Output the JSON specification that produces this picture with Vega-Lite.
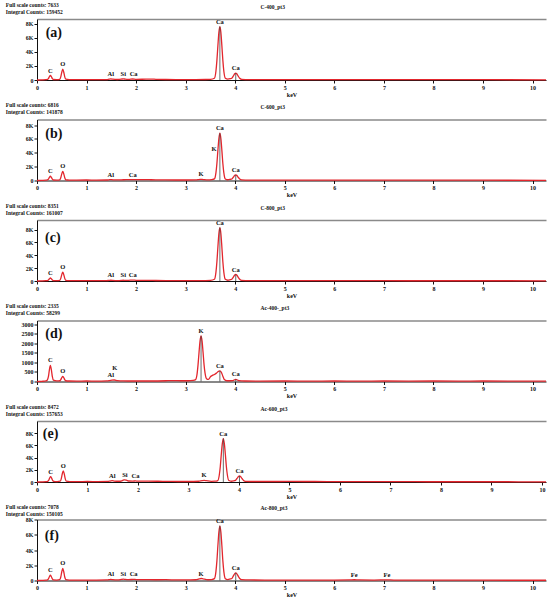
{
  "$schema": "https://vega.github.io/schema/vega-lite/v6.json",
  "background": "white",
  "padding": {"left": 5, "top": 2, "right": 4, "bottom": 0},
  "spacing": 5.5,
  "config": {
    "view": {"stroke": null},
    "font": "Liberation Serif",
    "axis": {
      "grid": false,
      "labelFont": "Liberation Serif", "labelFontWeight": "bold", "labelFontSize": 6, "labelColor": "#111",
      "titleFont": "Liberation Serif", "titleFontWeight": "bold", "titleFontSize": 6, "titleColor": "#111",
      "domainColor": "#111", "tickColor": "#111", "tickSize": 3, "labelPadding": 1, "titlePadding": 1
    },
    "text": {"font": "Liberation Serif", "fontWeight": "bold", "color": "#111"}
  },
  "datasets": {
    "a": [
      {"x":0,"y":0},{"x":0.1,"y":20},{"x":0.18,"y":50},
      {"x":0.21,"y":80},{"x":0.23,"y":200},{"x":0.25,"y":470},{"x":0.27,"y":640},{"x":0.29,"y":470},{"x":0.31,"y":200},{"x":0.33,"y":70},
      {"x":0.4,"y":50},
      {"x":0.46,"y":100},{"x":0.48,"y":450},{"x":0.5,"y":1110},{"x":0.52,"y":1540},{"x":0.54,"y":1110},{"x":0.56,"y":450},{"x":0.58,"y":120},
      {"x":0.65,"y":60},{"x":0.8,"y":50},{"x":1.0,"y":60},{"x":1.2,"y":50},{"x":1.4,"y":60},
      {"x":1.45,"y":110},{"x":1.49,"y":170},{"x":1.53,"y":110},{"x":1.62,"y":70},
      {"x":1.7,"y":120},{"x":1.74,"y":170},{"x":1.78,"y":120},{"x":1.85,"y":90},{"x":1.93,"y":140},{"x":2.0,"y":90},
      {"x":2.2,"y":120},{"x":2.3,"y":130},{"x":2.4,"y":100},{"x":2.6,"y":70},{"x":2.8,"y":60},{"x":3.0,"y":60},{"x":3.2,"y":60},{"x":3.4,"y":70},{"x":3.5,"y":90},
      {"x":3.58,"y":250},{"x":3.61,"y":1250},{"x":3.63,"y":2800},{"x":3.65,"y":4900},{"x":3.67,"y":6800},{"x":3.69,"y":7620},{"x":3.71,"y":6800},{"x":3.73,"y":4900},{"x":3.75,"y":2800},{"x":3.77,"y":1250},{"x":3.8,"y":250},
      {"x":3.85,"y":120},{"x":3.9,"y":180},
      {"x":3.93,"y":250},{"x":3.96,"y":550},{"x":3.99,"y":880},{"x":4.01,"y":960},{"x":4.03,"y":880},{"x":4.06,"y":550},{"x":4.09,"y":250},{"x":4.13,"y":100},
      {"x":4.3,"y":60},{"x":4.6,"y":50},{"x":5.0,"y":50},{"x":5.5,"y":60},{"x":6.0,"y":60},{"x":6.5,"y":60},{"x":7.0,"y":60},{"x":7.5,"y":50},{"x":8.0,"y":40},{"x":9.0,"y":40},{"x":10.27,"y":30}
    ],
    "b": [
      {"x":0,"y":0},{"x":0.1,"y":20},{"x":0.18,"y":50},
      {"x":0.21,"y":80},{"x":0.23,"y":190},{"x":0.25,"y":450},{"x":0.27,"y":620},{"x":0.29,"y":450},{"x":0.31,"y":190},{"x":0.33,"y":70},
      {"x":0.4,"y":50},
      {"x":0.46,"y":100},{"x":0.48,"y":400},{"x":0.5,"y":960},{"x":0.52,"y":1330},{"x":0.54,"y":960},{"x":0.56,"y":400},{"x":0.58,"y":110},
      {"x":0.65,"y":60},{"x":0.8,"y":60},{"x":1.0,"y":70},{"x":1.2,"y":60},{"x":1.4,"y":70},
      {"x":1.45,"y":100},{"x":1.49,"y":140},{"x":1.53,"y":100},{"x":1.62,"y":80},{"x":1.75,"y":110},{"x":1.85,"y":120},{"x":1.93,"y":140},{"x":2.0,"y":130},
      {"x":2.2,"y":120},{"x":2.3,"y":110},{"x":2.4,"y":100},{"x":2.6,"y":80},{"x":2.8,"y":70},{"x":3.0,"y":70},{"x":3.2,"y":90},
      {"x":3.27,"y":140},{"x":3.31,"y":170},{"x":3.35,"y":140},{"x":3.45,"y":80},{"x":3.52,"y":120},
      {"x":3.58,"y":230},{"x":3.61,"y":1100},{"x":3.63,"y":2450},{"x":3.65,"y":4350},{"x":3.67,"y":6050},{"x":3.69,"y":6820},{"x":3.71,"y":6050},{"x":3.73,"y":4350},{"x":3.75,"y":2450},{"x":3.77,"y":1100},{"x":3.8,"y":220},
      {"x":3.85,"y":110},{"x":3.9,"y":170},
      {"x":3.93,"y":220},{"x":3.96,"y":470},{"x":3.99,"y":740},{"x":4.01,"y":810},{"x":4.03,"y":740},{"x":4.06,"y":470},{"x":4.09,"y":220},{"x":4.13,"y":90},
      {"x":4.3,"y":60},{"x":4.6,"y":50},{"x":5.0,"y":50},{"x":5.5,"y":50},{"x":6.0,"y":50},{"x":6.5,"y":50},{"x":7.0,"y":50},{"x":7.5,"y":40},{"x":8.0,"y":40},{"x":9.0,"y":40},{"x":10.27,"y":30}
    ],
    "c": [
      {"x":0,"y":0},{"x":0.1,"y":20},{"x":0.18,"y":50},
      {"x":0.21,"y":70},{"x":0.23,"y":150},{"x":0.25,"y":340},{"x":0.27,"y":470},{"x":0.29,"y":340},{"x":0.31,"y":150},{"x":0.33,"y":60},
      {"x":0.4,"y":50},
      {"x":0.46,"y":100},{"x":0.48,"y":410},{"x":0.5,"y":1000},{"x":0.52,"y":1380},{"x":0.54,"y":1000},{"x":0.56,"y":410},{"x":0.58,"y":110},
      {"x":0.65,"y":60},{"x":0.8,"y":50},{"x":1.0,"y":60},{"x":1.2,"y":50},{"x":1.4,"y":60},
      {"x":1.45,"y":90},{"x":1.49,"y":120},{"x":1.53,"y":90},{"x":1.62,"y":60},
      {"x":1.7,"y":90},{"x":1.74,"y":120},{"x":1.78,"y":90},{"x":1.85,"y":100},{"x":1.93,"y":150},{"x":2.0,"y":110},
      {"x":2.2,"y":90},{"x":2.4,"y":80},{"x":2.6,"y":70},{"x":2.8,"y":60},{"x":3.0,"y":60},{"x":3.2,"y":60},{"x":3.4,"y":70},{"x":3.5,"y":90},
      {"x":3.58,"y":270},{"x":3.61,"y":1350},{"x":3.63,"y":3000},{"x":3.65,"y":5300},{"x":3.67,"y":7400},{"x":3.69,"y":8320},{"x":3.71,"y":7400},{"x":3.73,"y":5300},{"x":3.75,"y":3000},{"x":3.77,"y":1350},{"x":3.8,"y":270},
      {"x":3.85,"y":120},{"x":3.9,"y":200},
      {"x":3.93,"y":270},{"x":3.96,"y":580},{"x":3.99,"y":920},{"x":4.01,"y":1010},{"x":4.03,"y":920},{"x":4.06,"y":580},{"x":4.09,"y":270},{"x":4.13,"y":100},
      {"x":4.3,"y":60},{"x":4.6,"y":50},{"x":5.0,"y":50},{"x":5.5,"y":60},{"x":6.0,"y":50},{"x":6.5,"y":50},{"x":7.0,"y":50},{"x":7.5,"y":40},{"x":8.0,"y":40},{"x":9.0,"y":40},{"x":10.27,"y":30}
    ],
    "d": [
      {"x":0,"y":0},{"x":0.1,"y":10},{"x":0.18,"y":30},
      {"x":0.21,"y":90},{"x":0.23,"y":250},{"x":0.25,"y":610},{"x":0.27,"y":850},{"x":0.29,"y":610},{"x":0.31,"y":250},{"x":0.33,"y":70},
      {"x":0.4,"y":30},
      {"x":0.46,"y":40},{"x":0.48,"y":100},{"x":0.5,"y":200},{"x":0.52,"y":270},{"x":0.54,"y":200},{"x":0.56,"y":100},{"x":0.58,"y":40},
      {"x":0.65,"y":25},{"x":0.8,"y":20},{"x":1.0,"y":25},{"x":1.2,"y":20},{"x":1.4,"y":30},
      {"x":1.49,"y":60},{"x":1.56,"y":80},{"x":1.62,"y":50},{"x":1.75,"y":30},{"x":2.0,"y":25},{"x":2.3,"y":25},
      {"x":2.6,"y":40},{"x":2.7,"y":50},{"x":2.8,"y":45},{"x":2.9,"y":40},{"x":3.05,"y":40},{"x":3.15,"y":60},
      {"x":3.2,"y":100},{"x":3.23,"y":400},{"x":3.25,"y":900},{"x":3.27,"y":1550},{"x":3.29,"y":2130},{"x":3.31,"y":2390},{"x":3.33,"y":2130},{"x":3.35,"y":1550},{"x":3.37,"y":900},{"x":3.39,"y":450},{"x":3.42,"y":150},
      {"x":3.46,"y":110},{"x":3.5,"y":250},{"x":3.54,"y":320},{"x":3.58,"y":370},{"x":3.62,"y":440},{"x":3.66,"y":530},{"x":3.69,"y":560},{"x":3.72,"y":480},{"x":3.75,"y":280},{"x":3.78,"y":100},{"x":3.83,"y":40},
      {"x":3.95,"y":50},{"x":4.01,"y":110},{"x":4.07,"y":50},
      {"x":4.2,"y":25},{"x":4.5,"y":20},{"x":5.0,"y":25},{"x":5.5,"y":20},{"x":6.0,"y":25},{"x":6.5,"y":20},{"x":7.0,"y":25},{"x":7.5,"y":20},{"x":8.0,"y":25},{"x":8.5,"y":20},{"x":9.0,"y":25},{"x":9.5,"y":20},{"x":10.27,"y":15}
    ],
    "e": [
      {"x":0,"y":0},{"x":0.1,"y":20},{"x":0.18,"y":60},
      {"x":0.21,"y":110},{"x":0.23,"y":270},{"x":0.25,"y":640},{"x":0.27,"y":880},{"x":0.29,"y":640},{"x":0.31,"y":270},{"x":0.33,"y":90},
      {"x":0.4,"y":60},
      {"x":0.46,"y":130},{"x":0.48,"y":520},{"x":0.5,"y":1310},{"x":0.52,"y":1810},{"x":0.54,"y":1310},{"x":0.56,"y":520},{"x":0.58,"y":140},
      {"x":0.65,"y":70},{"x":0.8,"y":60},{"x":1.0,"y":80},{"x":1.2,"y":70},{"x":1.4,"y":90},
      {"x":1.45,"y":160},{"x":1.49,"y":210},{"x":1.53,"y":160},{"x":1.62,"y":120},
      {"x":1.68,"y":200},{"x":1.72,"y":340},{"x":1.74,"y":360},{"x":1.77,"y":300},{"x":1.82,"y":160},{"x":1.9,"y":150},{"x":1.95,"y":180},{"x":2.0,"y":140},
      {"x":2.2,"y":130},{"x":2.4,"y":120},{"x":2.6,"y":100},{"x":2.8,"y":80},{"x":3.0,"y":80},{"x":3.2,"y":120},
      {"x":3.27,"y":220},{"x":3.31,"y":260},{"x":3.35,"y":220},{"x":3.45,"y":110},{"x":3.52,"y":130},
      {"x":3.58,"y":240},{"x":3.61,"y":1150},{"x":3.63,"y":2550},{"x":3.65,"y":4550},{"x":3.67,"y":6300},{"x":3.69,"y":7120},{"x":3.71,"y":6300},{"x":3.73,"y":4550},{"x":3.75,"y":2550},{"x":3.77,"y":1150},{"x":3.8,"y":240},
      {"x":3.85,"y":120},{"x":3.9,"y":200},
      {"x":3.93,"y":260},{"x":3.96,"y":570},{"x":3.99,"y":900},{"x":4.01,"y":980},{"x":4.03,"y":900},{"x":4.06,"y":570},{"x":4.09,"y":260},{"x":4.13,"y":110},
      {"x":4.3,"y":80},{"x":4.6,"y":80},{"x":5.0,"y":90},{"x":5.5,"y":80},{"x":6.0,"y":70},{"x":6.5,"y":60},{"x":7.0,"y":50},{"x":7.5,"y":50},{"x":8.0,"y":40},{"x":9.0,"y":40},{"x":10.08,"y":30}
    ],
    "f": [
      {"x":0,"y":0},{"x":0.1,"y":20},{"x":0.18,"y":50},
      {"x":0.21,"y":90},{"x":0.23,"y":210},{"x":0.25,"y":500},{"x":0.27,"y":690},{"x":0.29,"y":500},{"x":0.31,"y":210},{"x":0.33,"y":70},
      {"x":0.4,"y":50},
      {"x":0.46,"y":110},{"x":0.48,"y":460},{"x":0.5,"y":1150},{"x":0.52,"y":1600},{"x":0.54,"y":1150},{"x":0.56,"y":460},{"x":0.58,"y":120},
      {"x":0.65,"y":60},{"x":0.8,"y":50},{"x":1.0,"y":60},{"x":1.2,"y":60},{"x":1.4,"y":70},
      {"x":1.45,"y":110},{"x":1.49,"y":140},{"x":1.53,"y":110},{"x":1.62,"y":80},
      {"x":1.7,"y":140},{"x":1.74,"y":180},{"x":1.78,"y":140},{"x":1.85,"y":110},{"x":1.95,"y":150},{"x":2.0,"y":120},
      {"x":2.2,"y":110},{"x":2.4,"y":100},{"x":2.6,"y":110},{"x":2.8,"y":80},{"x":3.0,"y":70},{"x":3.2,"y":100},
      {"x":3.27,"y":210},{"x":3.31,"y":260},{"x":3.35,"y":210},{"x":3.45,"y":100},{"x":3.52,"y":120},
      {"x":3.58,"y":240},{"x":3.61,"y":1160},{"x":3.63,"y":2570},{"x":3.65,"y":4580},{"x":3.67,"y":6360},{"x":3.69,"y":7170},{"x":3.71,"y":6360},{"x":3.73,"y":4580},{"x":3.75,"y":2570},{"x":3.77,"y":1160},{"x":3.8,"y":240},
      {"x":3.85,"y":120},{"x":3.9,"y":200},
      {"x":3.93,"y":260},{"x":3.96,"y":570},{"x":3.99,"y":910},{"x":4.01,"y":1000},{"x":4.03,"y":910},{"x":4.06,"y":570},{"x":4.09,"y":260},{"x":4.13,"y":110},
      {"x":4.3,"y":70},{"x":4.6,"y":60},{"x":5.0,"y":60},{"x":5.5,"y":60},{"x":6.0,"y":60},{"x":6.3,"y":80},{"x":6.4,"y":100},{"x":6.5,"y":70},{"x":6.8,"y":60},{"x":7.06,"y":90},{"x":7.2,"y":60},{"x":7.5,"y":60},{"x":8.0,"y":40},{"x":9.0,"y":40},{"x":10.27,"y":30}
    ],
    "mk": [
      {"p":"a","x":3.69,"y":7620},{"p":"a","x":4.01,"y":960},
      {"p":"b","x":3.69,"y":6820},{"p":"b","x":4.01,"y":810},
      {"p":"c","x":3.69,"y":8320},{"p":"c","x":4.01,"y":1010},
      {"p":"d","x":3.31,"y":2390},{"p":"d","x":3.69,"y":560},{"p":"d","x":4.01,"y":110},
      {"p":"e","x":3.69,"y":7120},{"p":"e","x":4.01,"y":980},
      {"p":"f","x":3.69,"y":7170},{"p":"f","x":4.01,"y":1000}
    ],
    "lab": [
      {"p":"a","x":0.27,"y":640,"t":"C"},{"p":"a","x":0.52,"y":1540,"t":"O"},{"p":"a","x":1.49,"y":170,"t":"Al"},{"p":"a","x":1.74,"y":170,"t":"Si"},{"p":"a","x":1.95,"y":170,"t":"Ca"},{"p":"a","x":3.69,"y":7620,"t":"Ca"},{"p":"a","x":4.01,"y":960,"t":"Ca"},
      {"p":"b","x":0.27,"y":620,"t":"C"},{"p":"b","x":0.52,"y":1330,"t":"O"},{"p":"b","x":1.49,"y":140,"t":"Al"},{"p":"b","x":1.93,"y":140,"t":"Ca"},{"p":"b","x":3.31,"y":170,"t":"K"},{"p":"b","x":3.57,"y":3850,"t":"K"},{"p":"b","x":3.69,"y":6820,"t":"Ca"},{"p":"b","x":4.01,"y":810,"t":"Ca"},
      {"p":"c","x":0.27,"y":470,"t":"C"},{"p":"c","x":0.52,"y":1380,"t":"O"},{"p":"c","x":1.49,"y":120,"t":"Al"},{"p":"c","x":1.74,"y":120,"t":"Si"},{"p":"c","x":1.93,"y":150,"t":"Ca"},{"p":"c","x":3.69,"y":8320,"t":"Ca"},{"p":"c","x":4.01,"y":1010,"t":"Ca"},
      {"p":"d","x":0.27,"y":850,"t":"C"},{"p":"d","x":0.52,"y":270,"t":"O"},{"p":"d","x":1.49,"y":60,"t":"Al"},{"p":"d","x":1.57,"y":420,"t":"K"},{"p":"d","x":3.31,"y":2390,"t":"K"},{"p":"d","x":3.69,"y":560,"t":"Ca"},{"p":"d","x":4.01,"y":110,"t":"Ca"},
      {"p":"e","x":0.27,"y":880,"t":"C"},{"p":"e","x":0.52,"y":1810,"t":"O"},{"p":"e","x":1.49,"y":210,"t":"Al"},{"p":"e","x":1.74,"y":360,"t":"Si"},{"p":"e","x":1.95,"y":180,"t":"Ca"},{"p":"e","x":3.31,"y":260,"t":"K"},{"p":"e","x":3.69,"y":7120,"t":"Ca"},{"p":"e","x":4.01,"y":980,"t":"Ca"},
      {"p":"f","x":0.27,"y":690,"t":"C"},{"p":"f","x":0.52,"y":1600,"t":"O"},{"p":"f","x":1.49,"y":140,"t":"Al"},{"p":"f","x":1.74,"y":180,"t":"Si"},{"p":"f","x":1.95,"y":150,"t":"Ca"},{"p":"f","x":3.31,"y":260,"t":"K"},{"p":"f","x":3.69,"y":7170,"t":"Ca"},{"p":"f","x":4.01,"y":1000,"t":"Ca"},{"p":"f","x":6.4,"y":100,"t":"Fe"},{"p":"f","x":7.06,"y":90,"t":"Fe"}
    ],
    "let": [
      {"p":"a","x":0.34,"y":6700,"t":"(a)"},
      {"p":"b","x":0.34,"y":6770,"t":"(b)"},
      {"p":"c","x":0.32,"y":6770,"t":"(c)"},
      {"p":"d","x":0.34,"y":2490,"t":"(d)"},
      {"p":"e","x":0.27,"y":7940,"t":"(e)"},
      {"p":"f","x":0.3,"y":5860,"t":"(f)"}
    ]
  },
  "vconcat": [
    {
      "width": 509, "height": 61,
      "encoding": {
        "x": {"field": "x", "type": "quantitative", "scale": {"domain": [0, 10.27], "nice": false}, "axis": null},
        "y": {"field": "y", "type": "quantitative", "scale": {"domain": [0, 8700], "nice": false}, "axis": null}
      },
      "layer": [
        {"data": {"name": "a"}, "mark": {"type": "line", "color": "#e3262d", "strokeWidth": 1.3, "interpolate": "monotone"},
         "encoding": {
           "x": {"field": "x", "type": "quantitative", "scale": {"domain": [0, 10.27], "nice": false}, "axis": {"values": [0,1,2,3,4,5,6,7,8,9,10], "title": "keV", "labelFlush": false}},
           "y": {"field": "y", "type": "quantitative", "scale": {"domain": [0, 8700], "nice": false}, "axis": {"values": [0,2000,4000,6000,8000], "labelExpr": "datum.value == 0 ? '0' : datum.value / 1000 + 'K'", "title": ["Full scale counts: 7633", "Integral Counts: 159452"], "titleAngle": 0, "titleAlign": "left", "titleBaseline": "top", "titleX": -31.7, "titleY": -17, "titleFontSize": 5.5, "titleLineHeight": 7}}
         }},
        {"data": {"name": "mk"}, "transform": [{"filter": "datum.p == 'a'"}], "mark": {"type": "rule", "color": "#444", "strokeWidth": 0.8}, "encoding": {"y2": {"datum": 0}}},
        {"data": {"name": "lab"}, "transform": [{"filter": "datum.p == 'a'"}], "mark": {"type": "text", "fontSize": 6.5, "baseline": "bottom", "dy": -2},
         "encoding": {
           "x": {"field": "x", "type": "quantitative", "scale": {"domain": [0, 10.27], "nice": false}, "axis": {"orient": "top", "labels": false, "ticks": false, "domainColor": "#8a8a8a", "domainWidth": 1.5, "title": "C-400_pt3", "titleX": 223, "titleY": -10, "titleAlign": "left", "titleBaseline": "bottom", "titleFontSize": 5.5}},
           "text": {"field": "t"}
         }},
        {"data": {"name": "let"}, "transform": [{"filter": "datum.p == 'a'"}], "mark": {"type": "text", "fontSize": 14, "baseline": "middle"}, "encoding": {"text": {"field": "t"}}}
      ],
      "resolve": {"axis": {"x": "independent", "y": "independent"}}
    },
    {
      "width": 509, "height": 61,
      "encoding": {
        "x": {"field": "x", "type": "quantitative", "scale": {"domain": [0, 10.27], "nice": false}, "axis": null},
        "y": {"field": "y", "type": "quantitative", "scale": {"domain": [0, 8800], "nice": false}, "axis": null}
      },
      "layer": [
        {"data": {"name": "b"}, "mark": {"type": "line", "color": "#e3262d", "strokeWidth": 1.3, "interpolate": "monotone"},
         "encoding": {
           "x": {"field": "x", "type": "quantitative", "scale": {"domain": [0, 10.27], "nice": false}, "axis": {"values": [0,1,2,3,4,5,6,7,8,9,10], "title": "keV", "labelFlush": false}},
           "y": {"field": "y", "type": "quantitative", "scale": {"domain": [0, 8800], "nice": false}, "axis": {"values": [0,2000,4000,6000,8000], "labelExpr": "datum.value == 0 ? '0' : datum.value / 1000 + 'K'", "title": ["Full scale counts: 6816", "Integral Counts: 141878"], "titleAngle": 0, "titleAlign": "left", "titleBaseline": "top", "titleX": -31.7, "titleY": -17, "titleFontSize": 5.5, "titleLineHeight": 7}}
         }},
        {"data": {"name": "mk"}, "transform": [{"filter": "datum.p == 'b'"}], "mark": {"type": "rule", "color": "#444", "strokeWidth": 0.8}, "encoding": {"y2": {"datum": 0}}},
        {"data": {"name": "lab"}, "transform": [{"filter": "datum.p == 'b'"}], "mark": {"type": "text", "fontSize": 6.5, "baseline": "bottom", "dy": -2},
         "encoding": {
           "x": {"field": "x", "type": "quantitative", "scale": {"domain": [0, 10.27], "nice": false}, "axis": {"orient": "top", "labels": false, "ticks": false, "domainColor": "#8a8a8a", "domainWidth": 1.5, "title": "C-600_pt3", "titleX": 223, "titleY": -10, "titleAlign": "left", "titleBaseline": "bottom", "titleFontSize": 5.5}},
           "text": {"field": "t"}
         }},
        {"data": {"name": "let"}, "transform": [{"filter": "datum.p == 'b'"}], "mark": {"type": "text", "fontSize": 14, "baseline": "middle"}, "encoding": {"text": {"field": "t"}}}
      ],
      "resolve": {"axis": {"x": "independent", "y": "independent"}}
    },
    {
      "width": 509, "height": 61,
      "encoding": {
        "x": {"field": "x", "type": "quantitative", "scale": {"domain": [0, 10.27], "nice": false}, "axis": null},
        "y": {"field": "y", "type": "quantitative", "scale": {"domain": [0, 9500], "nice": false}, "axis": null}
      },
      "layer": [
        {"data": {"name": "c"}, "mark": {"type": "line", "color": "#e3262d", "strokeWidth": 1.3, "interpolate": "monotone"},
         "encoding": {
           "x": {"field": "x", "type": "quantitative", "scale": {"domain": [0, 10.27], "nice": false}, "axis": {"values": [0,1,2,3,4,5,6,7,8,9,10], "title": "keV", "labelFlush": false}},
           "y": {"field": "y", "type": "quantitative", "scale": {"domain": [0, 9500], "nice": false}, "axis": {"values": [0,2000,4000,6000,8000], "labelExpr": "datum.value == 0 ? '0' : datum.value / 1000 + 'K'", "title": ["Full scale counts: 8351", "Integral Counts: 161007"], "titleAngle": 0, "titleAlign": "left", "titleBaseline": "top", "titleX": -31.7, "titleY": -17, "titleFontSize": 5.5, "titleLineHeight": 7}}
         }},
        {"data": {"name": "mk"}, "transform": [{"filter": "datum.p == 'c'"}], "mark": {"type": "rule", "color": "#444", "strokeWidth": 0.8}, "encoding": {"y2": {"datum": 0}}},
        {"data": {"name": "lab"}, "transform": [{"filter": "datum.p == 'c'"}], "mark": {"type": "text", "fontSize": 6.5, "baseline": "bottom", "dy": -2},
         "encoding": {
           "x": {"field": "x", "type": "quantitative", "scale": {"domain": [0, 10.27], "nice": false}, "axis": {"orient": "top", "labels": false, "ticks": false, "domainColor": "#8a8a8a", "domainWidth": 1.5, "title": "C-800_pt3", "titleX": 223, "titleY": -10, "titleAlign": "left", "titleBaseline": "bottom", "titleFontSize": 5.5}},
           "text": {"field": "t"}
         }},
        {"data": {"name": "let"}, "transform": [{"filter": "datum.p == 'c'"}], "mark": {"type": "text", "fontSize": 14, "baseline": "middle"}, "encoding": {"text": {"field": "t"}}}
      ],
      "resolve": {"axis": {"x": "independent", "y": "independent"}}
    },
    {
      "width": 509, "height": 61,
      "encoding": {
        "x": {"field": "x", "type": "quantitative", "scale": {"domain": [0, 10.27], "nice": false}, "axis": null},
        "y": {"field": "y", "type": "quantitative", "scale": {"domain": [0, 3200], "nice": false}, "axis": null}
      },
      "layer": [
        {"data": {"name": "d"}, "mark": {"type": "line", "color": "#e3262d", "strokeWidth": 1.3, "interpolate": "monotone"},
         "encoding": {
           "x": {"field": "x", "type": "quantitative", "scale": {"domain": [0, 10.27], "nice": false}, "axis": {"values": [0,1,2,3,4,5,6,7,8,9,10], "title": "keV", "labelFlush": false}},
           "y": {"field": "y", "type": "quantitative", "scale": {"domain": [0, 3200], "nice": false}, "axis": {"values": [0,500,1000,1500,2000,2500,3000], "format": "d", "title": ["Full scale counts: 2335", "Integral Counts: 58299"], "titleAngle": 0, "titleAlign": "left", "titleBaseline": "top", "titleX": -31.7, "titleY": -17, "titleFontSize": 5.5, "titleLineHeight": 7}}
         }},
        {"data": {"name": "mk"}, "transform": [{"filter": "datum.p == 'd'"}], "mark": {"type": "rule", "color": "#444", "strokeWidth": 0.8}, "encoding": {"y2": {"datum": 0}}},
        {"data": {"name": "lab"}, "transform": [{"filter": "datum.p == 'd'"}], "mark": {"type": "text", "fontSize": 6.5, "baseline": "bottom", "dy": -2},
         "encoding": {
           "x": {"field": "x", "type": "quantitative", "scale": {"domain": [0, 10.27], "nice": false}, "axis": {"orient": "top", "labels": false, "ticks": false, "domainColor": "#8a8a8a", "domainWidth": 1.5, "title": "Ac-400-_pt3", "titleX": 223, "titleY": -10, "titleAlign": "left", "titleBaseline": "bottom", "titleFontSize": 5.5}},
           "text": {"field": "t"}
         }},
        {"data": {"name": "let"}, "transform": [{"filter": "datum.p == 'd'"}], "mark": {"type": "text", "fontSize": 14, "baseline": "middle"}, "encoding": {"text": {"field": "t"}}}
      ],
      "resolve": {"axis": {"x": "independent", "y": "independent"}}
    },
    {
      "width": 509, "height": 61,
      "encoding": {
        "x": {"field": "x", "type": "quantitative", "scale": {"domain": [0, 10.08], "nice": false}, "axis": null},
        "y": {"field": "y", "type": "quantitative", "scale": {"domain": [0, 10000], "nice": false}, "axis": null}
      },
      "layer": [
        {"data": {"name": "e"}, "mark": {"type": "line", "color": "#e3262d", "strokeWidth": 1.3, "interpolate": "monotone"},
         "encoding": {
           "x": {"field": "x", "type": "quantitative", "scale": {"domain": [0, 10.08], "nice": false}, "axis": {"values": [0,1,2,3,4,5,6,7,8,9,10], "title": "keV", "labelFlush": false}},
           "y": {"field": "y", "type": "quantitative", "scale": {"domain": [0, 10000], "nice": false}, "axis": {"values": [0,2000,4000,6000,8000], "labelExpr": "datum.value == 0 ? '0' : datum.value / 1000 + 'K'", "title": ["Full scale counts: 8472", "Integral Counts: 157653"], "titleAngle": 0, "titleAlign": "left", "titleBaseline": "top", "titleX": -31.7, "titleY": -17, "titleFontSize": 5.5, "titleLineHeight": 7}}
         }},
        {"data": {"name": "mk"}, "transform": [{"filter": "datum.p == 'e'"}], "mark": {"type": "rule", "color": "#444", "strokeWidth": 0.8}, "encoding": {"y2": {"datum": 0}}},
        {"data": {"name": "lab"}, "transform": [{"filter": "datum.p == 'e'"}], "mark": {"type": "text", "fontSize": 6.5, "baseline": "bottom", "dy": -2},
         "encoding": {
           "x": {"field": "x", "type": "quantitative", "scale": {"domain": [0, 10.08], "nice": false}, "axis": {"orient": "top", "labels": false, "ticks": false, "domainColor": "#8a8a8a", "domainWidth": 1.5, "title": "Ac-600_pt3", "titleX": 223, "titleY": -10, "titleAlign": "left", "titleBaseline": "bottom", "titleFontSize": 5.5}},
           "text": {"field": "t"}
         }},
        {"data": {"name": "let"}, "transform": [{"filter": "datum.p == 'e'"}], "mark": {"type": "text", "fontSize": 14, "baseline": "middle"}, "encoding": {"text": {"field": "t"}}}
      ],
      "resolve": {"axis": {"x": "independent", "y": "independent"}}
    },
    {
      "width": 509, "height": 61,
      "encoding": {
        "x": {"field": "x", "type": "quantitative", "scale": {"domain": [0, 10.27], "nice": false}, "axis": null},
        "y": {"field": "y", "type": "quantitative", "scale": {"domain": [0, 8000], "nice": false}, "axis": null}
      },
      "layer": [
        {"data": {"name": "f"}, "mark": {"type": "line", "color": "#e3262d", "strokeWidth": 1.3, "interpolate": "monotone"},
         "encoding": {
           "x": {"field": "x", "type": "quantitative", "scale": {"domain": [0, 10.27], "nice": false}, "axis": {"values": [0,1,2,3,4,5,6,7,8,9,10], "title": "keV", "labelFlush": false}},
           "y": {"field": "y", "type": "quantitative", "scale": {"domain": [0, 8000], "nice": false}, "axis": {"values": [0,2000,4000,6000,8000], "labelExpr": "datum.value == 0 ? '0' : datum.value / 1000 + 'K'", "title": ["Full scale counts: 7078", "Integral Counts: 150105"], "titleAngle": 0, "titleAlign": "left", "titleBaseline": "top", "titleX": -31.7, "titleY": -15, "titleFontSize": 5.5, "titleLineHeight": 7}}
         }},
        {"data": {"name": "mk"}, "transform": [{"filter": "datum.p == 'f'"}], "mark": {"type": "rule", "color": "#444", "strokeWidth": 0.8}, "encoding": {"y2": {"datum": 0}}},
        {"data": {"name": "lab"}, "transform": [{"filter": "datum.p == 'f'"}], "mark": {"type": "text", "fontSize": 6.5, "baseline": "bottom", "dy": -2},
         "encoding": {
           "x": {"field": "x", "type": "quantitative", "scale": {"domain": [0, 10.27], "nice": false}, "axis": {"orient": "top", "labels": false, "ticks": false, "domainColor": "#8a8a8a", "domainWidth": 1.5, "title": "Ac-800_pt3", "titleX": 223, "titleY": -9, "titleAlign": "left", "titleBaseline": "bottom", "titleFontSize": 5.5}},
           "text": {"field": "t"}
         }},
        {"data": {"name": "let"}, "transform": [{"filter": "datum.p == 'f'"}], "mark": {"type": "text", "fontSize": 14, "baseline": "middle"}, "encoding": {"text": {"field": "t"}}}
      ],
      "resolve": {"axis": {"x": "independent", "y": "independent"}}
    }
  ]
}
